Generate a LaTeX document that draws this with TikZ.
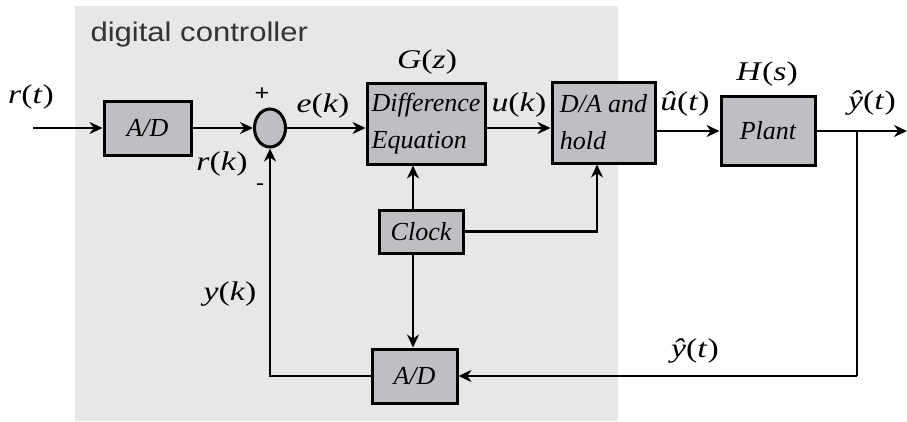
\documentclass[tikz,border=0pt]{standalone}
\usepackage{fontspec}
\setmainfont{Liberation Serif}
\newfontfamily\lblfont[FakeStretch=1.25]{Liberation Serif}
\newfontfamily\ctrlfont[FakeStretch=1.15]{Liberation Sans}
\usetikzlibrary{arrows.meta,shapes.geometric}
\definecolor{ctrlgray}{HTML}{E6E7E9}
\definecolor{blkgray}{HTML}{BEBFC3}
\newcommand{\sgl}[2]{\textit{#1}(\textit{#2})}
\begin{document}
\begin{tikzpicture}[x=1pt,y=-1pt,
  blk/.style={draw, fill=blkgray, line width=3pt, inner sep=2pt, font=\fontsize{26}{37}\selectfont\itshape},
  lbl/.style={inner sep=0pt, font=\fontsize{27}{30}\lblfont},
  wire/.style={line width=2.8pt},
  arr/.style={wire, -{Stealth[length=13pt,width=12pt]}}]
\useasboundingbox (0,0) rectangle (907,421);
\fill[ctrlgray] (75,6) rectangle (618,421);
\node[anchor=west, font=\fontsize{27}{30}\ctrlfont, text=black!80] (ttl) at (87,35) {digital controller};
% blocks
\node[blk, minimum width=87, minimum height=54] (ad1) at (147.5,128) {A/D};
\node[draw, ellipse, fill=blkgray, line width=3pt, minimum width=31, minimum height=38, inner sep=0pt] (sum) at (270,128) {};
\node[blk, minimum width=118, minimum height=81, align=left] (deq) at (426,123.5) {Difference\\Equation};
\node[blk, minimum width=103, minimum height=81, align=left] (dah) at (603.5,122.5) {D/A and\\hold};
\node[blk, minimum width=94, minimum height=69] (plant) at (768,131) {Plant};
\node[blk, minimum width=84, minimum height=43] (clk) at (421,231.5) {Clock};
\node[blk, minimum width=85, minimum height=54] (ad2) at (414.5,376) {A/D};
\coordinate (in) at (33,128);
\coordinate (out) at (907,131);
\coordinate (br) at (857,131);
\coordinate (brd) at (857,376);
\coordinate (fb) at (270,376);
\coordinate (ck) at (413,231.5);
\coordinate (ckr) at (597,231.5);
% signals
\draw[arr] (in) -- (ad1);
\draw[arr] (ad1) -- (sum);
\draw[arr] (sum) -- (sum -| deq.west);
\draw[arr] (deq.east |- sum) -- (dah.west |- sum);
\draw[arr] (dah.east |- plant.west) -- (plant.west);
\draw[arr] (plant) -- (out);
\draw[wire] (br) -- (brd);
\draw[arr] (brd) -- (ad2);
\draw[arr] (ad2) -- (fb) -- (sum);
\draw[arr] (clk.north -| ck) -- (deq.south -| ck);
\draw[arr] (clk.south -| ck) -- (ad2.north -| ck);
\draw[arr] (clk.east) -- (ckr) -- (dah.south -| ckr);
% labels
\node[lbl] (rt) at (31,97) {\sgl{r}{t}};
\node[lbl] (rk) at (222,164) {\sgl{r}{k}};
\node[lbl] (ek) at (323,106) {\sgl{e}{k}};
\node[lbl] (uk) at (519,105) {\sgl{u}{k}};
\node[lbl] (uh) at (685,104) {\sgl{\^{u}}{t}};
\node[lbl] (yh1) at (872,103) {\sgl{\^{y}}{t}};
\node[lbl] (yh2) at (695,351) {\sgl{\^{y}}{t}};
\node[lbl] (yk) at (230,294) {\sgl{y}{k}};
\node[lbl] (gz) at (427,62) {\sgl{G}{z}};
\node[lbl] (hs) at (767,74) {\sgl{H}{s}};
\node[font=\fontsize{22}{22}\ctrlfont] (plus) at (262,94) {+};
\node[font=\fontsize{22}{22}\ctrlfont] (minus) at (260,187) {-};
\end{tikzpicture}
\end{document}
